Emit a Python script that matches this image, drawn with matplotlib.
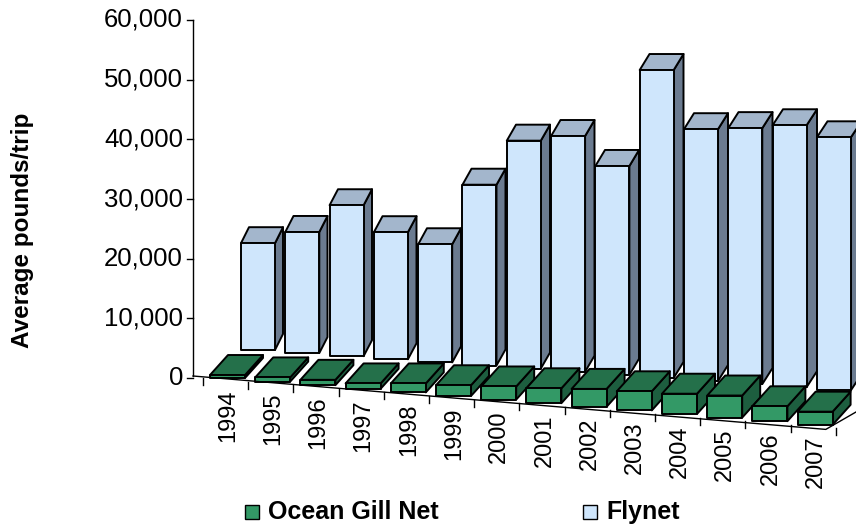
import matplotlib
matplotlib.use("Agg")
import matplotlib.pyplot as plt
from matplotlib.patches import Polygon, Rectangle

plt.rcParams['font.family'] = ['Liberation Sans', 'DejaVu Sans']

years = [str(y) for y in range(1994, 2008)]
flynet = [17900, 20300, 25300, 21300, 19800, 30300, 38200, 39500, 35000, 51600, 42200, 42900, 43900, 42400]
gillnet = [500, 700, 900, 900, 1500, 1800, 2200, 2500, 3000, 3200, 3400, 3700, 2500, 2200]
yticks = [0, 10000, 20000, 30000, 40000, 50000, 60000]

# pseudo 3-D projection, in pixel space
y0, px_per_unit = 378, 358 / 60000.0

def hpx(v):
    return v * px_per_unit

def box(ax, x, yb, w, h, dx, dy, cf, cs, ct):
    front = [(x, yb), (x + w, yb), (x + w, yb - h), (x, yb - h)]
    side = [(x + w, yb), (x + w + dx, yb + dy), (x + w + dx, yb + dy - h), (x + w, yb - h)]
    top = [(x, yb - h), (x + w, yb - h), (x + w + dx, yb + dy - h), (x + dx, yb + dy - h)]
    for pts, c in ((side, cs), (top, ct), (front, cf)):
        ax.add_patch(Polygon(pts, closed=True, fc=c, ec='black', lw=1.4, joinstyle='round'))

fig = plt.figure(figsize=(8.56, 5.29), dpi=100)
ax = fig.add_axes([0, 0, 1, 1])
ax.set_xlim(0, 856)
ax.set_ylim(529, 0)
ax.axis('off')

# axis and floor
ax.plot([193, 193], [20, 376], color='black', lw=1)
for t in yticks:
    yy = y0 - hpx(t)
    ax.plot([187, 193], [yy, yy], color='black', lw=1)
    ax.text(183, yy, f'{t:,}', ha='right', va='center', fontsize=18.5)
n = len(years)
ax.plot([193, 203 + 45.2 * n - 10, 856], [376, 378 + 3.6 * n + 1, 412], color='black', lw=1)
for i in range(n + 1):
    xx = 203 + 45.2 * i
    yy = 378 + 3.6 * i
    ax.plot([xx, xx], [yy, yy + 7], color='black', lw=1)

# Flynet row (back)
for i, v in enumerate(flynet):
    box(ax, 241 + 44.3 * i, 350 + 3.1 * i, 34, hpx(v), 8 + 0.2 * i, -16,
        '#cfe6fc', '#6b7b90', '#a3b6cc')
# Ocean Gill Net row (front)
for i, v in enumerate(gillnet):
    box(ax, 210 + 45.2 * i, 378 + 3.6 * i, 35, hpx(v), 18, -20,
        '#339966', '#1d5e3f', '#24704a')

for i, y in enumerate(years):
    ax.text(228 + 45.2 * i, 389 + 3.6 * i, y, rotation=90, ha='center', va='top', fontsize=17)

ax.text(23, 230, 'Average pounds/trip', rotation=90, ha='center', va='center',
        fontsize=17.5, fontweight='bold')

ax.add_patch(Rectangle((245, 505), 14, 14, fc='#339966', ec='black', lw=1))
ax.text(268, 512, 'Ocean Gill Net', ha='left', va='center', fontsize=18, fontweight='bold')
ax.add_patch(Rectangle((583, 505), 14, 14, fc='#cfe6fc', ec='black', lw=1))
ax.text(606, 512, 'Flynet', ha='left', va='center', fontsize=18, fontweight='bold')

fig.savefig('out.png', dpi=100)
